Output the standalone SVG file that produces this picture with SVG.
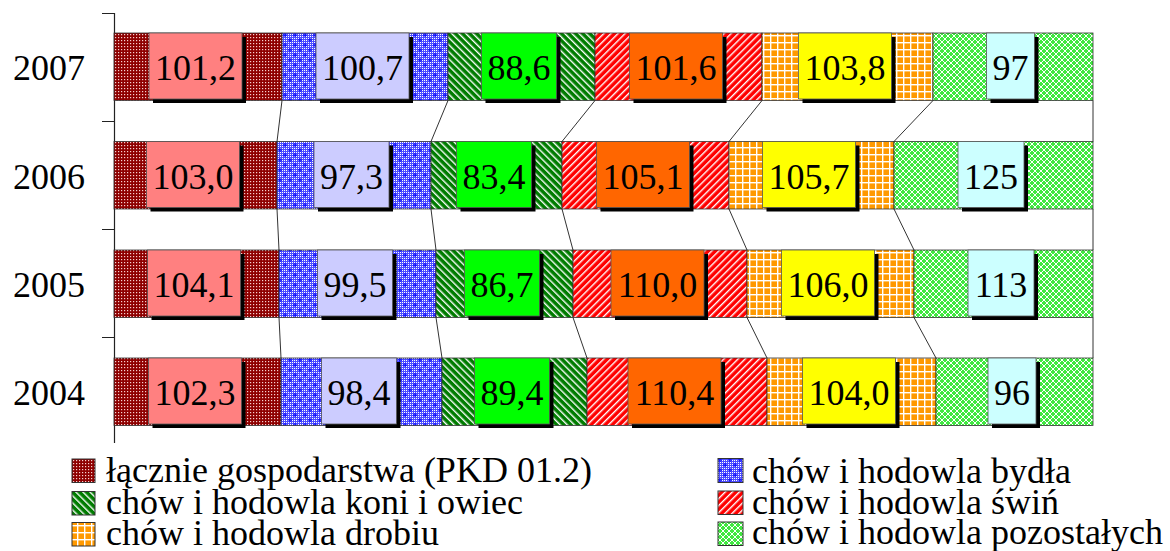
<svg xmlns="http://www.w3.org/2000/svg" width="1170" height="551" viewBox="0 0 1170 551">
<style>
.seg{stroke:#333;stroke-width:0.8}
.box{stroke:#555;stroke-width:0.8}
.sh{fill:#000}
.lbl{font-family:"Liberation Serif","Times New Roman",serif;font-size:36px;text-anchor:middle;fill:#000}
.yr{font-family:"Liberation Serif","Times New Roman",serif;font-size:36px;text-anchor:end;fill:#000}
.lg{font-family:"Liberation Serif","Times New Roman",serif;font-size:36px;fill:#000}
.sl{stroke:#333;stroke-width:1;fill:none}
.ax{stroke:#222;stroke-width:1.2;fill:none}
.lsq{stroke:#333;stroke-width:1}
.b1{fill:#ff8080}.b2{fill:#ccccff}.b3{fill:#00ff00}.b4{fill:#ff6600}.b5{fill:#ffff00}.b6{fill:#ccffff}
.p1{fill:url(#pMaroon)}.p2{fill:url(#pBlue)}.p3{fill:url(#pGreen)}.p4{fill:url(#pRed)}.p5{fill:url(#pOrange)}.p6{fill:url(#pLight)}
</style>
<defs>
<pattern id="pMaroon" width="3" height="3" patternUnits="userSpaceOnUse">
<rect width="3" height="3" fill="#8e0000"/>
<rect x="1" y="1" width="1.2" height="1.2" fill="#f6d0d0"/>
</pattern>
<pattern id="pDot" width="2" height="2" patternUnits="userSpaceOnUse">
<rect width="2" height="2" fill="#4d4dff"/>
<rect width="1" height="1" fill="#ffffff"/>
</pattern>
<pattern id="pBlue" width="10" height="10" patternUnits="userSpaceOnUse">
<rect width="10" height="10" fill="url(#pDot)"/>
<path d="M5,3v4M3,5h4M0,-2v4M-2,0h4M10,-2v4M8,0h4M0,8v4M-2,10h4M10,8v4M8,10h4" stroke="#0000ff" stroke-width="1"/>
</pattern>
<pattern id="pGreen" width="5" height="5" patternUnits="userSpaceOnUse" patternTransform="rotate(-45)">
<rect width="5" height="5" fill="#007c00"/>
<rect width="1.4" height="5" fill="#ffffff"/>
</pattern>
<pattern id="pRed" width="5" height="5" patternUnits="userSpaceOnUse" patternTransform="rotate(45)">
<rect width="5" height="5" fill="#ff0000"/>
<rect width="1.4" height="5" fill="#ffffff"/>
</pattern>
<pattern id="pOrange" width="7" height="7" patternUnits="userSpaceOnUse">
<rect width="7" height="7" fill="#ff9900"/>
<rect width="7" height="1.4" fill="#ffffff"/>
<rect width="1.4" height="7" fill="#ffffff"/>
</pattern>
<pattern id="pLight" width="6" height="6" patternUnits="userSpaceOnUse">
<rect width="6" height="6" fill="#40e840"/>
<path d="M0,0L6,6M6,0L0,6" stroke="#ffffff" stroke-width="1"/>
</pattern>
</defs>
<rect width="1170" height="551" fill="#ffffff"/>

<g id="axis">
<path class="ax" d="M114.5,13V443M102,13.5H114.5M102,121.5H114.5M102,229.5H114.5M102,337.5H114.5"/>
<text class="yr" x="85" y="80">2007</text>
<text class="yr" x="85" y="188.5">2006</text>
<text class="yr" x="85" y="297">2005</text>
<text class="yr" x="85" y="405">2004</text>
</g>

<g id="row2007">
<g id="s2007-1"><rect class="seg p1" x="114" y="33" width="168" height="67.5"/><rect class="sh" x="153" y="37" width="93" height="66"/><rect class="box b1" x="149" y="33" width="93" height="66"/><text class="lbl" x="195.5" y="80">101,2</text></g>
<g id="s2007-2"><rect class="seg p2" x="282" y="33" width="166" height="67.5"/><rect class="sh" x="320" y="37" width="93" height="66"/><rect class="box b2" x="316" y="33" width="93" height="66"/><text class="lbl" x="362.5" y="80">100,7</text></g>
<g id="s2007-3"><rect class="seg p3" x="448" y="33" width="147" height="67.5"/><rect class="sh" x="485.5" y="37" width="75" height="66"/><rect class="box b3" x="481.5" y="33" width="75" height="66"/><text class="lbl" x="519" y="80">88,6</text></g>
<g id="s2007-4"><rect class="seg p4" x="595" y="33" width="167" height="67.5"/><rect class="sh" x="633.5" y="37" width="93" height="66"/><rect class="box b4" x="629.5" y="33" width="93" height="66"/><text class="lbl" x="676" y="80">101,6</text></g>
<g id="s2007-5"><rect class="seg p5" x="762" y="33" width="171" height="67.5"/><rect class="sh" x="802.5" y="37" width="93" height="66"/><rect class="box b5" x="798.5" y="33" width="93" height="66"/><text class="lbl" x="845" y="80">103,8</text></g>
<g id="s2007-6"><rect class="seg p6" x="933" y="33" width="160" height="67.5"/><rect class="sh" x="990.5" y="37" width="48" height="66"/><rect class="box b6" x="986.5" y="33" width="48" height="66"/><text class="lbl" x="1010.5" y="80">97</text></g>
</g>

<g id="row2006">
<g id="s2006-1"><rect class="seg p1" x="114" y="141.5" width="163" height="67.5"/><rect class="sh" x="150.5" y="145.5" width="93" height="66"/><rect class="box b1" x="146.5" y="141.5" width="93" height="66"/><text class="lbl" x="193" y="188.5">103,0</text></g>
<g id="s2006-2"><rect class="seg p2" x="277" y="141.5" width="154" height="67.5"/><rect class="sh" x="318" y="145.5" width="75" height="66"/><rect class="box b2" x="314" y="141.5" width="75" height="66"/><text class="lbl" x="351.5" y="188.5">97,3</text></g>
<g id="s2006-3"><rect class="seg p3" x="431" y="141.5" width="131" height="67.5"/><rect class="sh" x="460.5" y="145.5" width="75" height="66"/><rect class="box b3" x="456.5" y="141.5" width="75" height="66"/><text class="lbl" x="494" y="188.5">83,4</text></g>
<g id="s2006-4"><rect class="seg p4" x="562" y="141.5" width="167" height="67.5"/><rect class="sh" x="600.5" y="145.5" width="93" height="66"/><rect class="box b4" x="596.5" y="141.5" width="93" height="66"/><text class="lbl" x="643" y="188.5">105,1</text></g>
<g id="s2006-5"><rect class="seg p5" x="729" y="141.5" width="165" height="67.5"/><rect class="sh" x="766.5" y="145.5" width="93" height="66"/><rect class="box b5" x="762.5" y="141.5" width="93" height="66"/><text class="lbl" x="809" y="188.5">105,7</text></g>
<g id="s2006-6"><rect class="seg p6" x="894" y="141.5" width="199" height="67.5"/><rect class="sh" x="962" y="145.5" width="66" height="66"/><rect class="box b6" x="958" y="141.5" width="66" height="66"/><text class="lbl" x="991" y="188.5">125</text></g>
</g>

<g id="row2005">
<g id="s2005-1"><rect class="seg p1" x="114" y="250" width="165" height="67.5"/><rect class="sh" x="151.5" y="254" width="93" height="66"/><rect class="box b1" x="147.5" y="250" width="93" height="66"/><text class="lbl" x="194" y="297">104,1</text></g>
<g id="s2005-2"><rect class="seg p2" x="279" y="250" width="157" height="67.5"/><rect class="sh" x="321.5" y="254" width="75" height="66"/><rect class="box b2" x="317.5" y="250" width="75" height="66"/><text class="lbl" x="355" y="297">99,5</text></g>
<g id="s2005-3"><rect class="seg p3" x="436" y="250" width="137" height="67.5"/><rect class="sh" x="468.5" y="254" width="75" height="66"/><rect class="box b3" x="464.5" y="250" width="75" height="66"/><text class="lbl" x="502" y="297">86,7</text></g>
<g id="s2005-4"><rect class="seg p4" x="573" y="250" width="174" height="67.5"/><rect class="sh" x="615" y="254" width="93" height="66"/><rect class="box b4" x="611" y="250" width="93" height="66"/><text class="lbl" x="657.5" y="297">110,0</text></g>
<g id="s2005-5"><rect class="seg p5" x="747" y="250" width="167" height="67.5"/><rect class="sh" x="785.5" y="254" width="93" height="66"/><rect class="box b5" x="781.5" y="250" width="93" height="66"/><text class="lbl" x="828" y="297">106,0</text></g>
<g id="s2005-6"><rect class="seg p6" x="914" y="250" width="179" height="67.5"/><rect class="sh" x="972" y="254" width="66" height="66"/><rect class="box b6" x="968" y="250" width="66" height="66"/><text class="lbl" x="1001" y="297">113</text></g>
</g>

<g id="row2004">
<g id="s2004-1"><rect class="seg p1" x="114" y="358" width="167" height="67.5"/><rect class="sh" x="152.5" y="362" width="93" height="66"/><rect class="box b1" x="148.5" y="358" width="93" height="66"/><text class="lbl" x="195" y="405">102,3</text></g>
<g id="s2004-2"><rect class="seg p2" x="281" y="358" width="161" height="67.5"/><rect class="sh" x="325.5" y="362" width="75" height="66"/><rect class="box b2" x="321.5" y="358" width="75" height="66"/><text class="lbl" x="359" y="405">98,4</text></g>
<g id="s2004-3"><rect class="seg p3" x="442" y="358" width="145" height="67.5"/><rect class="sh" x="478.5" y="362" width="75" height="66"/><rect class="box b3" x="474.5" y="358" width="75" height="66"/><text class="lbl" x="512" y="405">89,4</text></g>
<g id="s2004-4"><rect class="seg p4" x="587" y="358" width="180" height="67.5"/><rect class="sh" x="632" y="362" width="93" height="66"/><rect class="box b4" x="628" y="358" width="93" height="66"/><text class="lbl" x="674.5" y="405">110,4</text></g>
<g id="s2004-5"><rect class="seg p5" x="767" y="358" width="169" height="67.5"/><rect class="sh" x="806.5" y="362" width="93" height="66"/><rect class="box b5" x="802.5" y="358" width="93" height="66"/><text class="lbl" x="849" y="405">104,0</text></g>
<g id="s2004-6"><rect class="seg p6" x="936" y="358" width="157" height="67.5"/><rect class="sh" x="992" y="362" width="48" height="66"/><rect class="box b6" x="988" y="358" width="48" height="66"/><text class="lbl" x="1012" y="405">96</text></g>
</g>

<g id="series-lines">
<path class="sl" d="M282,100.5L277,141.5M448,100.5L431,141.5M595,100.5L562,141.5M762,100.5L729,141.5M933,100.5L894,141.5M1093,100.5L1093,141.5"/>
<path class="sl" d="M277,209L279,250M431,209L436,250M562,209L573,250M729,209L747,250M894,209L914,250M1093,209L1093,250"/>
<path class="sl" d="M279,317.5L281,358M436,317.5L442,358M573,317.5L587,358M747,317.5L767,358M914,317.5L936,358M1093,317.5L1093,358"/>
</g>

<g id="legend">
<g id="lg1"><rect class="lsq p1" x="72" y="459" width="23" height="23.5"/><text class="lg" x="106" y="482">łącznie gospodarstwa (PKD 01.2)</text></g>
<g id="lg2"><rect class="lsq p3" x="72" y="491.5" width="23" height="23.5"/><text class="lg" x="106" y="513.5">chów i hodowla koni i owiec</text></g>
<g id="lg3"><rect class="lsq p5" x="72" y="522.5" width="23" height="23.5"/><text class="lg" x="106" y="544.5">chów i hodowla drobiu</text></g>
<g id="lg4"><rect class="lsq p2" x="718" y="458.5" width="25" height="24"/><text class="lg" x="752" y="483">chów i hodowla bydła</text></g>
<g id="lg5"><rect class="lsq p4" x="718" y="491" width="25" height="23.5"/><text class="lg" x="752" y="514">chów i hodowla świń</text></g>
<g id="lg6"><rect class="lsq p6" x="718" y="522" width="25" height="23.5"/><text class="lg" x="752" y="544">chów i hodowla pozostałych</text></g>
</g>
</svg>
